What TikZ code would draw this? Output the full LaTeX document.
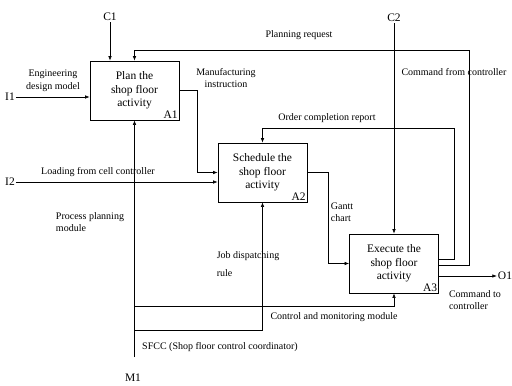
\documentclass[tikz,border=0pt]{standalone}
\usepackage{fontspec}
\setmainfont{Liberation Serif}
\usetikzlibrary{arrows.meta,positioning,calc}

\begin{document}
\begin{tikzpicture}[
  x=1pt, y=-1pt,
  act/.style={draw, line width=0.7pt, minimum width=89pt, minimum height=59pt,
              align=center, inner sep=0pt, font=\fontsize{11.5}{13.5}\selectfont},
  actid/.style={font=\fontsize{11.5}{12}\selectfont, anchor=south east, inner sep=1.5pt},
  term/.style={font=\fontsize{11.5}{12}\selectfont, inner sep=1pt},
  arr/.style={-{Latex[length=4.5pt,width=3.5pt]}, line width=0.6pt},
  ann/.style={font=\fontsize{10}{12.5}\selectfont, align=center, inner sep=0pt},
]
  \useasboundingbox (0,0) rectangle (512,386);

  %% Actividades
  \node[act, label={[actid]south east:A1}] (A1) at (134.5,90.5) {Plan the\\shop floor\\activity};
  \node[act, label={[actid]south east:A2}] (A2) at (262.5,172.5) {Schedule the\\shop floor\\activity};
  \node[act, label={[actid]south east:A3}] (A3) at (394,263.5) {Execute the\\shop floor\\activity};

  %% Entradas, controles, salidas y mecanismos
  \node[term] (C1) at (110,17) {C1};
  \node[term] (C2) at (394,18) {C2};
  \node[term] (I1) at (10,97) {I1};
  \node[term] (I2) at (10,182) {I2};
  \node[term] (O1) at (505,276) {O1};
  \node[term] (M1) at (133,378) {M1};

  \coordinate (mb) at (134.5,357);
  \coordinate (jd) at (134.5,330);
  \coordinate (cm) at (134.5,306);

  %% Flechas
  \draw[arr] (C1) -- (C1 |- A1.north);
  \draw[arr] (C2) -- (C2 |- A3.north);
  \draw[arr] (I1) -- (I1 -| A1.west);
  \draw[arr] (I2) -- (I2 -| A2.west);
  \draw[arr] (A3.east |- O1) -- (O1);
  \draw[arr] (A1.east) -| ($(A2.west)+(-20,0)$) -- (A2.west);
  \draw[arr] (A2.east) -| ($(A3.west)+(-21,0)$) -- (A3.west);
  \draw[arr] ([yshift=4.5pt]A3.east) -| (454,128) -| (A2.north);
  \draw[arr] ([yshift=-1.5pt]A3.east) -| (469,50) -| (A1.north);
  \draw[arr] (mb) -- (A1.south);
  \draw[arr] (jd) -| (A2.south);
  \draw[arr] (cm) -| (A3.south);

  %% Etiquetas de las flechas
  \node[ann] (eng)   at (53,81)   {Engineering\\design model};
  \node[ann] (load)  at (98,172)  {Loading from cell controller};
  \node[ann] (manu)  at (226,78)  {Manufacturing\\instruction};
  \node[ann] (plan)  at (299,35)  {Planning request};
  \node[ann] (cmdfr) at (454,72)  {Command from controller};
  \node[ann] (order) at (327,118) {Order completion report};
  \node[ann, align=left] (gantt) at (342,212) {Gantt\\chart};
  \node[ann, align=left] (proc)  at (90,222)  {Process planning\\module};
  \node[ann, align=left] (job)   at (248,264) {Job dispatching\\[5pt]rule};
  \node[ann] (ctrl)  at (334,317) {Control and monitoring module};
  \node[ann] (sfcc)  at (220,347) {SFCC (Shop floor control coordinator)};
  \node[ann, align=left] (cmdto) at (475,300) {Command to\\controller};

\end{tikzpicture}
\end{document}
